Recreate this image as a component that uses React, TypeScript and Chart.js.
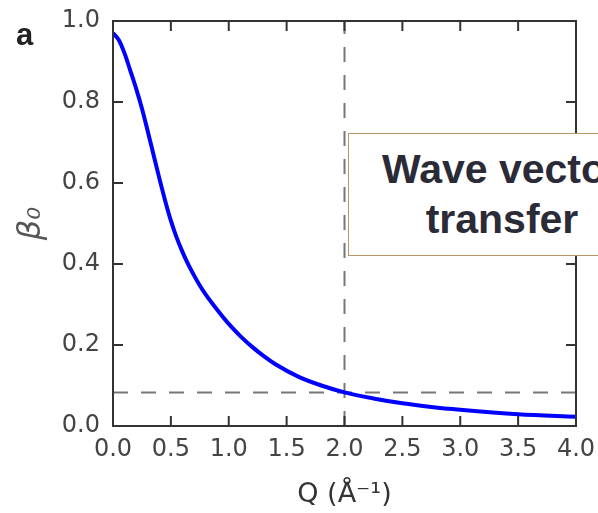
import React, { useEffect, useRef } from "react";
import { Chart, registerables } from "chart.js";

Chart.register(...registerables);

// Data
const qValues = [0, 0.05, 0.1, 0.15, 0.2, 0.25, 0.3, 0.35, 0.4, 0.45, 0.5, 0.55, 0.6, 0.65, 0.7, 0.75, 0.8, 0.9, 1.0, 1.1, 1.2, 1.3, 1.4, 1.6, 1.8, 2.0, 2.25, 2.5, 2.75, 3.0, 3.5, 4.0];
const betaValues = [0.97, 0.953, 0.92, 0.877, 0.833, 0.784, 0.728, 0.67, 0.612, 0.557, 0.507, 0.465, 0.43, 0.399, 0.372, 0.347, 0.325, 0.287, 0.252, 0.222, 0.196, 0.173, 0.153, 0.122, 0.1, 0.083, 0.068, 0.056, 0.047, 0.04, 0.029, 0.023];
const xRange = [0, 4];
const yRange = [0, 1];
const markerQ = 2.0;
const markerBeta = 0.083;
const xTickStep = 0.5;
const yTickStep = 0.2;
const xTitle = "Q (Å⁻¹)";
const yTitle = "β₀";
const panelLabel = "a";
const boxLines = ["Wave vector", "transfer"];

const framePlugin = {
  id: "frameTicks",
  afterDatasetsDraw(chart: any) {
    const { ctx, chartArea, scales } = chart;
    const { left, right, top, bottom } = chartArea;
    ctx.save();
    ctx.strokeStyle = "#333";
    ctx.lineWidth = 2;
    const tl = 10;
    ctx.beginPath();
    scales.x.ticks.forEach((t: any) => {
      const px = scales.x.getPixelForValue(t.value);
      ctx.moveTo(px, bottom);
      ctx.lineTo(px, bottom - tl);
      ctx.moveTo(px, top);
      ctx.lineTo(px, top + tl);
    });
    scales.y.ticks.forEach((t: any) => {
      const py = scales.y.getPixelForValue(t.value);
      ctx.moveTo(left, py);
      ctx.lineTo(left + tl, py);
      ctx.moveTo(right, py);
      ctx.lineTo(right - tl, py);
    });
    ctx.stroke();
    ctx.strokeRect(left, top, right - left, bottom - top);
    ctx.restore();
  },
};

export default function App() {
  const canvasRef = useRef<HTMLCanvasElement | null>(null);

  useEffect(() => {
    if (!canvasRef.current) return;
    const fam = "'DejaVu Sans', sans-serif";
    const tickFont = { family: fam, size: 24 };
    const chart = new Chart(canvasRef.current, {
      type: "line",
      data: {
        datasets: [
          {
            data: qValues.map((q, i) => ({ x: q, y: betaValues[i] })),
            borderColor: "#0000ff",
            borderWidth: 4,
            pointRadius: 0,
            cubicInterpolationMode: "monotone",
            fill: false,
          },
          {
            data: [
              { x: xRange[0], y: markerBeta },
              { x: xRange[1], y: markerBeta },
            ],
            borderColor: "#777",
            borderWidth: 2,
            borderDash: [15, 13],
            pointRadius: 0,
            fill: false,
          },
          {
            data: [
              { x: markerQ, y: yRange[0] },
              { x: markerQ, y: yRange[1] },
            ],
            borderColor: "#777",
            borderWidth: 2,
            borderDash: [15, 13],
            pointRadius: 0,
            fill: false,
          },
        ],
      },
      options: {
        animation: false,
        responsive: true,
        maintainAspectRatio: false,
        layout: { padding: { top: 21, right: 22, bottom: 0, left: 0 } },
        plugins: { legend: { display: false }, tooltip: { enabled: false } },
        scales: {
          x: {
            type: "linear",
            min: xRange[0],
            max: xRange[1],
            grid: { display: false, drawTicks: false },
            border: { display: false },
            ticks: {
              stepSize: xTickStep,
              autoSkip: false,
              maxRotation: 0,
              padding: 9,
              color: "#444",
              font: tickFont,
              callback: (v: any) => Number(v).toFixed(1),
            },
            title: {
              display: true,
              text: xTitle,
              color: "#333",
              font: { family: fam, size: 27 },
              padding: { top: 0, bottom: 2 },
            },
            afterFit: (s: any) => {
              s.height = 87;
              s.paddingLeft = 0;
              s.paddingRight = 0;
            },
          },
          y: {
            type: "linear",
            min: yRange[0],
            max: yRange[1],
            grid: { display: false, drawTicks: false },
            border: { display: false },
            ticks: {
              stepSize: yTickStep,
              padding: 13,
              color: "#444",
              font: tickFont,
              callback: (v: any) => Number(v).toFixed(1),
            },
            title: {
              display: true,
              text: yTitle,
              color: "#555",
              font: { family: fam, size: 32, style: "italic" },
              padding: { top: 12, bottom: 0 },
            },
            afterFit: (s: any) => {
              s.width = 113;
              s.paddingTop = 0;
              s.paddingBottom = 0;
            },
          },
        },
      },
      plugins: [framePlugin],
    } as any);
    return () => chart.destroy();
  }, []);

  return (
    <div
      style={{
        position: "absolute",
        left: 0,
        top: 0,
        width: 598,
        height: 513,
        overflow: "hidden",
        background: "#fff",
      }}
    >
      <canvas ref={canvasRef} />
      <div
        style={{
          position: "absolute",
          left: 16,
          top: 20,
          font: "bold 31px 'Liberation Sans', Arial, sans-serif",
          lineHeight: "30px",
          color: "#222",
        }}
      >
        {panelLabel}
      </div>
      <div
        style={{
          position: "absolute",
          left: 348,
          top: 133,
          width: 308,
          height: 123,
          boxSizing: "border-box",
          border: "1.5px solid #b8966a",
          background: "#fff",
          textAlign: "center",
          font: "bold 41px 'Liberation Sans', Arial, sans-serif",
          lineHeight: "50px",
          color: "#2b2b38",
          paddingTop: 10,
          whiteSpace: "nowrap",
        }}
      >
        {boxLines.map((l) => (
          <div key={l}>{l}</div>
        ))}
      </div>
    </div>
  );
}
